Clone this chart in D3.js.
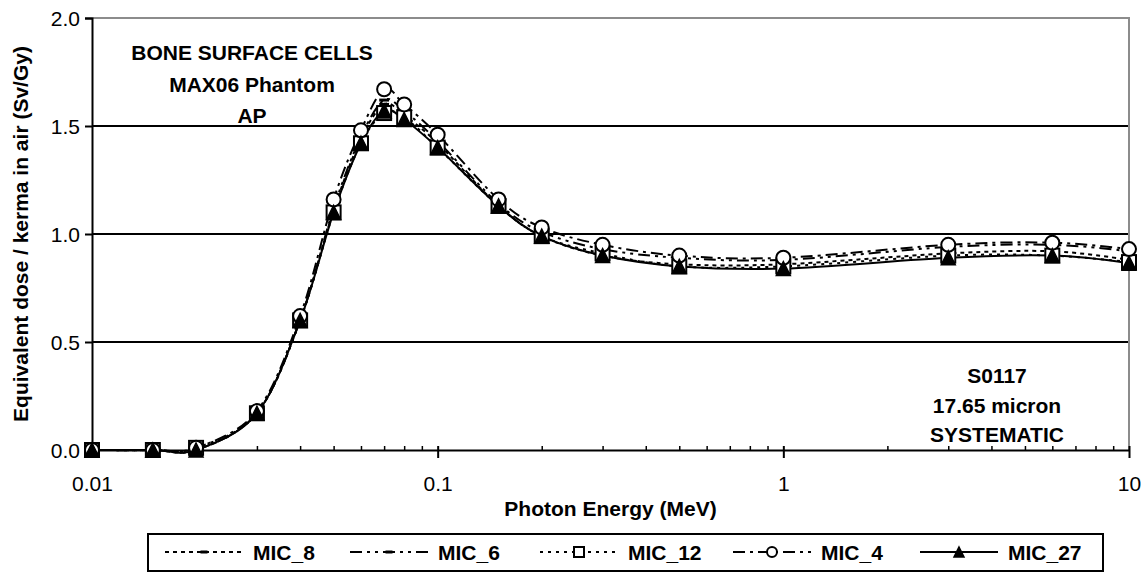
<!DOCTYPE html>
<html>
<head>
<meta charset="UTF-8">
<title>Bone surface cells - MAX06 AP</title>
<script src="https://d3js.org/d3.v7.min.js"></script>
<style>
  body { margin: 0; background: #fff; }
  svg { display: block; }
  svg text { font-family: "Liberation Sans", Arial, sans-serif; fill: #000; }
  .tick text { font-size: 21px; }
</style>
</head>
<body>
<svg id="chart" width="1146" height="575"></svg>
<script>
// photon energies (MeV)
const energies = [0.01, 0.015, 0.02, 0.03, 0.04, 0.05, 0.06, 0.07, 0.08, 0.1, 0.15, 0.2, 0.3, 0.5, 1, 3, 6, 10];

// equivalent dose / kerma in air (Sv/Gy)
const mic8  = [0, 0, 0,    0.17, 0.60, 1.11, 1.44, 1.60, 1.55, 1.42, 1.13, 0.99, 0.90, 0.86, 0.86, 0.91, 0.92, 0.88];
const mic6  = [0, 0, 0,    0.17, 0.60, 1.12, 1.45, 1.62, 1.57, 1.43, 1.14, 1.01, 0.93, 0.89, 0.88, 0.94, 0.95, 0.92];
const mic12 = [0, 0, 0.01, 0.17, 0.60, 1.10, 1.42, 1.56, 1.54, 1.40, 1.13, 0.99, 0.91, 0.85, 0.85, 0.90, 0.90, 0.87];
const mic4  = [0, 0, 0.01, 0.18, 0.62, 1.16, 1.48, 1.67, 1.60, 1.46, 1.16, 1.03, 0.95, 0.90, 0.89, 0.95, 0.96, 0.93];
const mic27 = [0, 0, 0,    0.17, 0.60, 1.10, 1.42, 1.57, 1.53, 1.40, 1.13, 0.99, 0.90, 0.85, 0.84, 0.89, 0.90, 0.865];

const seriesNames = ["MIC_8", "MIC_6", "MIC_12", "MIC_4", "MIC_27"];
const xTickValues = [0.01, 0.1, 1, 10];
const xTickLabels = ["0.01", "0.1", "1", "10"];
const yTickValues = [0, 0.5, 1.0, 1.5, 2.0];

const annotTopLeft = ["BONE SURFACE CELLS", "MAX06 Phantom", "AP"];
const annotBottomRight = ["S0117", "17.65 micron", "SYSTEMATIC"];

// look of each series (Excel style line + marker)
const styles = {
  "MIC_8":  { dash: "4,4",              marker: "dash" },
  "MIC_6":  { dash: "12,5,3,5,3,5",     marker: "dash" },
  "MIC_12": { dash: "3,5",              marker: "square" },
  "MIC_4":  { dash: "12,5,3,5",         marker: "circle" },
  "MIC_27": { dash: null,               marker: "triangle" }
};

const seriesData = [mic8, mic6, mic12, mic4, mic27];

const plotL = 92, plotR = 1129, plotT = 18, plotB = 450;

const svg = d3.select("#chart");

const x = d3.scaleLog().domain([0.01, 10]).range([plotL, plotR]);
const y = d3.scaleLinear().domain([0, 2]).range([plotB, plotT]);

// gridlines
svg.append("g")
  .selectAll("line")
  .data([0.5, 1.0, 1.5])
  .enter().append("line")
    .attr("x1", plotL).attr("x2", plotR)
    .attr("y1", d => y(d)).attr("y2", d => y(d))
    .attr("stroke", "#000").attr("stroke-width", 2);

// top and right border (grey)
svg.append("path")
  .attr("d", `M${plotL},${y(2)}H${plotR}V${plotB}`)
  .attr("fill", "none").attr("stroke", "#8c8c8c").attr("stroke-width", 2);

// y axis
const yAxis = svg.append("g")
  .attr("transform", `translate(${plotL},0)`)
  .call(d3.axisLeft(y).tickValues(yTickValues).tickFormat(d3.format(".1f")).tickSize(7).tickPadding(5));
yAxis.select(".domain").attr("stroke-width", 2);
yAxis.selectAll(".tick line").attr("stroke-width", 2);
yAxis.selectAll(".tick text").attr("dy", "0.36em");

// x axis, minor ticks pointing up into the plot
const minorTicks = [];
[0.01, 0.1, 1].forEach(dec => { for (let k = 2; k <= 9; k++) minorTicks.push(dec * k); });

svg.append("g")
  .attr("transform", `translate(0,${plotB})`)
  .call(d3.axisBottom(x).tickValues(minorTicks).tickFormat("").tickSize(-4).tickSizeOuter(0))
  .call(g => g.select(".domain").remove())
  .selectAll(".tick line").attr("stroke-width", 1.5);

const xAxis = svg.append("g")
  .attr("transform", `translate(0,${plotB})`)
  .call(d3.axisBottom(x).tickValues(xTickValues)
    .tickFormat((d, i) => xTickLabels[i]).tickSize(8).tickSizeOuter(0).tickPadding(18));
xAxis.select(".domain").attr("stroke-width", 2);
xAxis.selectAll(".tick line").attr("stroke-width", 2).attr("y1", -4);

// axis titles
svg.append("text")
  .attr("x", (plotL + plotR) / 2).attr("y", 516)
  .attr("text-anchor", "middle")
  .style("font-size", "21px").style("font-weight", "bold")
  .text("Photon Energy (MeV)");

svg.append("text")
  .attr("transform", `translate(28,${(plotT + plotB) / 2}) rotate(-90)`)
  .attr("text-anchor", "middle")
  .style("font-size", "21px").style("font-weight", "bold")
  .text("Equivalent dose / kerma in air (Sv/Gy)");

// annotations
svg.append("g").selectAll("text")
  .data(annotTopLeft).enter().append("text")
    .attr("x", 252).attr("y", (d, i) => 60 + i * 31.5)
    .attr("text-anchor", "middle")
    .style("font-size", "21px").style("font-weight", "bold")
    .text(d => d);

svg.append("g").selectAll("text")
  .data(annotBottomRight).enter().append("text")
    .attr("x", 997).attr("y", (d, i) => 383 + i * 29.5)
    .attr("text-anchor", "middle")
    .style("font-size", "21px").style("font-weight", "bold")
    .text(d => d);

// marker painter
function drawMarker(g, type, size) {
  const h = size / 2;
  if (type === "circle") {
    g.append("circle").attr("r", h).attr("fill", "#fff").attr("stroke", "#000").attr("stroke-width", 2);
  } else if (type === "square") {
    g.append("rect").attr("x", -h).attr("y", -h).attr("width", size).attr("height", size)
      .attr("fill", "#fff").attr("stroke", "#000").attr("stroke-width", 2);
  } else if (type === "triangle") {
    g.append("path").attr("d", `M0,${-h}L${h},${h}L${-h},${h}Z`)
      .attr("fill", "#000").attr("stroke", "#000").attr("stroke-width", 1.5);
  } else if (type === "dash") {
    g.append("rect").attr("x", -h * 0.7).attr("y", -1.5).attr("width", h * 1.4).attr("height", 3)
      .attr("fill", "#000");
  }
}

const line = d3.line()
  .x(d => x(d[0]))
  .y(d => y(d[1]))
  .curve(d3.curveCardinal.tension(0));

const plot = svg.append("g");

seriesNames.forEach((name, si) => {
  const pts = energies.map((e, i) => [e, seriesData[si][i]]);
  const st = styles[name];
  plot.append("path")
    .datum(pts)
    .attr("d", line)
    .attr("fill", "none")
    .attr("stroke", "#000")
    .attr("stroke-width", 2)
    .attr("stroke-dasharray", st.dash);
});

seriesNames.forEach((name, si) => {
  const pts = energies.map((e, i) => [e, seriesData[si][i]]);
  const st = styles[name];
  plot.append("g").selectAll("g")
    .data(pts).enter().append("g")
      .attr("transform", d => `translate(${x(d[0])},${y(d[1])})`)
      .each(function () { drawMarker(d3.select(this), st.marker, 14); });
});

// legend
const legendLineStart = [165, 350, 540, 733, 920];
const legend = svg.append("g");
legend.append("rect")
  .attr("x", 148).attr("y", 534).attr("width", 955).attr("height", 37)
  .attr("fill", "#fff").attr("stroke", "#000").attr("stroke-width", 2);

seriesNames.forEach((name, i) => {
  const st = styles[name];
  const x0 = legendLineStart[i], cy = 552;
  legend.append("line")
    .attr("x1", x0).attr("x2", x0 + 78).attr("y1", cy).attr("y2", cy)
    .attr("stroke", "#000").attr("stroke-width", 2)
    .attr("stroke-dasharray", st.dash);
  const m = legend.append("g").attr("transform", `translate(${x0 + 39},${cy})`);
  drawMarker(m, st.marker, 10);
  legend.append("text")
    .attr("x", x0 + 88).attr("y", cy + 7.5)
    .style("font-size", "21px").style("font-weight", "bold")
    .text(name);
});
</script>
</body>
</html>
